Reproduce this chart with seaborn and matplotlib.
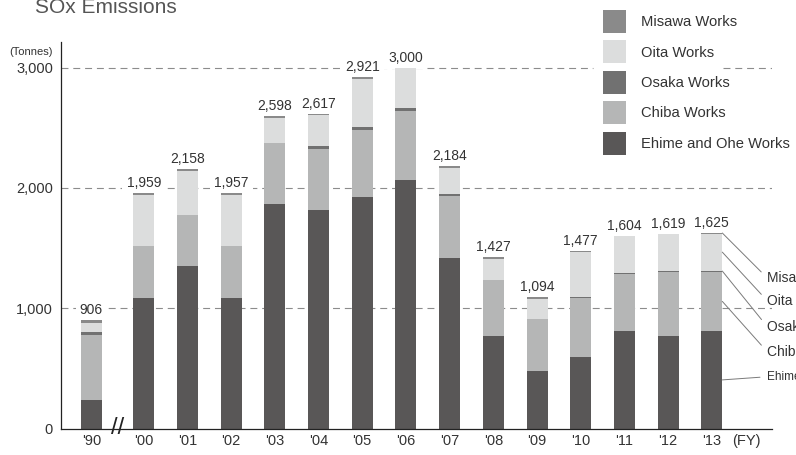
import numpy as np
import pandas as pd
import matplotlib
matplotlib.use("Agg")
import matplotlib.pyplot as plt
from matplotlib.patches import Patch
import seaborn as sns

# ---- data (tonnes of SOx per fiscal year, by works) ----
years = ["'90", "'00", "'01", "'02", "'03", "'04", "'05", "'06",
         "'07", "'08", "'09", "'10", "'11", "'12", "'13"]
totals = [906, 1959, 2158, 1957, 2598, 2617, 2921, 3000,
          2184, 1427, 1094, 1477, 1604, 1619, 1625]
ehime = [235, 1088, 1355, 1085, 1865, 1820, 1925, 2065,
         1414, 766, 478, 597, 807, 772, 808]
chiba = [543, 432, 420, 430, 505, 505, 560, 578,
         522, 468, 433, 490, 478, 528, 497]
osaka = [27, 0, 0, 0, 0, 22, 22, 24,
         17, 0, 0, 8, 7, 7, 7]
oita = [69, 425, 368, 430, 212, 256, 398, 333,
        216, 171, 168, 374, 307, 307, 308]
misawa = [32, 14, 15, 12, 16, 14, 16, 0,
          15, 22, 15, 8, 5, 5, 5]
y_ticks = [0, 1000, 2000, 3000]

series_names = ["Ehime and Ohe Works", "Chiba Works", "Osaka Works",
                "Oita Works", "Misawa Works"]
series_colors = {"Ehime and Ohe Works": "#595757",
                 "Chiba Works": "#b5b6b6",
                 "Osaka Works": "#717171",
                 "Oita Works": "#dcdddd",
                 "Misawa Works": "#8a8a8a"}

# ---- style ----
sns.set_theme(style="white")
plt.rcParams["font.family"] = ["Liberation Sans", "DejaVu Sans"]
plt.rcParams["lines.scale_dashes"] = False
text_col = "#333333"

# the 1990 bar sits a little apart, past the axis break
positions = np.r_[-1.2, np.arange(len(years) - 1)]

df = pd.DataFrame({"pos": positions, "Ehime and Ohe Works": ehime,
                   "Chiba Works": chiba, "Osaka Works": osaka,
                   "Oita Works": oita, "Misawa Works": misawa})
cum = df[series_names].cumsum(axis=1)
cum["pos"] = positions

fig = plt.figure(figsize=(7.96, 4.55), dpi=100)
W, H = 796, 455
ax = fig.add_axes([60.7 / W, 26.5 / H, 711 / W, 386.5 / H])

# stacked bars: draw cumulative tops from the uppermost series down
for name in reversed(series_names):
    sns.barplot(data=cum, x="pos", y=name, native_scale=True,
                color=series_colors[name], saturation=1, width=0.48,
                errorbar=None, linewidth=0, edgecolor="none",
                zorder=2, ax=ax)

ax.set_xlim(-1.9, 14.37)
ax.set_ylim(0, 3213)

# dashed reference lines
grid_kw = dict(color="#8c8c8c", lw=0.8, ls=(0, (5, 3.5)), zorder=1)
for v in y_ticks[1:-1]:
    ax.axhline(v, **grid_kw)
ax.axhline(y_ticks[-1], xmin=0, xmax=0.749, **grid_kw)
ax.axhline(y_ticks[-1], xmin=0.931, xmax=1, **grid_kw)

# axes styling
for s in ("top", "right"):
    ax.spines[s].set_visible(False)
for s in ("left", "bottom"):
    ax.spines[s].set_color("#222222")
    ax.spines[s].set_linewidth(0.9)
ax.set_xticks(positions, years)
ax.set_yticks(y_ticks, [f"{v:,}" for v in y_ticks])
ax.tick_params(axis="both", length=0, labelsize=10.5, colors=text_col)
ax.tick_params(axis="x", pad=4)
ax.tick_params(axis="y", pad=5.5)
ax.set_xlabel("")
ax.set_ylabel("")

ax.annotate("(FY)", xy=(positions[-1], 0), xycoords=("data", "axes fraction"),
            xytext=(20, -5.5), textcoords="offset pixels", ha="left", va="top",
            fontsize=10.5, color=text_col)

# axis break between 1990 and 2000
ax.text((positions[0] + positions[1]) / 2, 0, "//", ha="center", va="center",
        fontsize=17, color="#222222", clip_on=False, zorder=4)

# totals above each bar
for p, t in zip(positions, totals):
    ax.annotate(f"{t:,}", xy=(p, t), xytext=(0, 4.3), textcoords="offset points",
                ha="center", va="baseline", fontsize=10, color=text_col,
                bbox=dict(boxstyle="square,pad=0.3", fc="white", ec="none"),
                zorder=1.5)

# leader labels on the latest bar
last = len(years) - 1
bx = positions[last] + 0.24
c = cum.iloc[last]
starts = {"Misawa Works": c["Misawa Works"],
          "Oita Works": (c["Osaka Works"] + c["Oita Works"]) / 2,
          "Osaka Works": (c["Chiba Works"] + c["Osaka Works"]) / 2,
          "Chiba Works": (c["Ehime and Ohe Works"] + c["Chiba Works"]) / 2,
          "Ehime and Ohe Works": c["Ehime and Ohe Works"] / 2}
label_y = {"Misawa Works": 0.389, "Oita Works": 0.330, "Osaka Works": 0.263,
           "Chiba Works": 0.198, "Ehime and Ohe Works": 0.134}
for name in reversed(series_names):
    fs = 8.5 if name.startswith("Ehime") else 10
    ax.annotate(name, xy=(bx, starts[name]), xycoords="data",
                xytext=(0.994, label_y[name]), textcoords="axes fraction",
                ha="left", va="center", fontsize=fs, color=text_col,
                annotation_clip=False,
                arrowprops=dict(arrowstyle="-", color="#7a7a7a", lw=0.7,
                                shrinkA=3, shrinkB=0, relpos=(0, 0.5)))

# legend
handles = [Patch(facecolor=series_colors[n], edgecolor="none")
           for n in reversed(series_names)]
fig.legend(handles, list(reversed(series_names)), loc="upper left",
           bbox_to_anchor=(602.7 / W, 1 - 10 / H), frameon=False,
           borderpad=0, borderaxespad=0, handlelength=1.5625, handleheight=2.027,
           labelspacing=0.503, handletextpad=1.067,
           prop={"size": 10.6}, labelcolor=text_col)

# titles
fig.text(35 / W, 1 - 13 / H, "SOx Emissions", va="baseline", ha="left",
         fontsize=15, color="#555555")
fig.text(53 / W, 1 - 52 / H, "(Tonnes)", va="center", ha="right",
         fontsize=8, color=text_col)

fig.savefig("out.png", dpi=100)
